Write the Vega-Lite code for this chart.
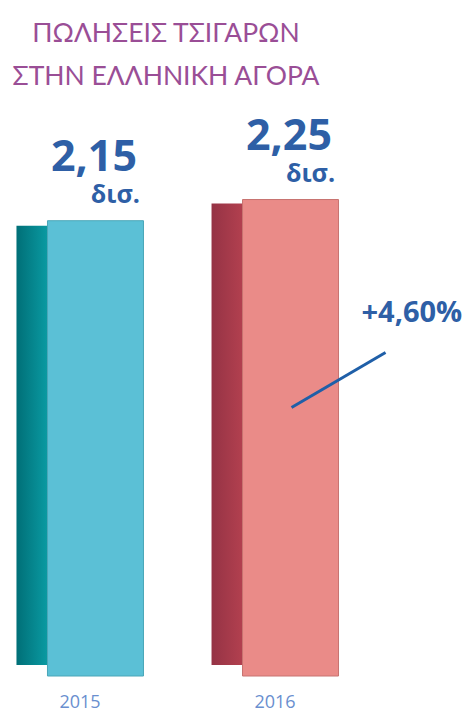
{
  "$schema": "https://vega.github.io/schema/vega-lite/v6.json",
  "width": 355,
  "height": 576,
  "autosize": "none",
  "padding": {"left": 0, "top": 100, "right": 113, "bottom": 35},
  "background": "white",
  "config": {"view": {"stroke": null}},
  "title": {
    "text": ["ΠΩΛΗΣΕΙΣ ΤΣΙΓΑΡΩΝ", "ΣΤΗΝ ΕΛΛΗΝΙΚΗ ΑΓΟΡΑ"],
    "anchor": "start",
    "frame": "group",
    "align": "center",
    "dx": 166,
    "offset": 10,
    "font": "Lato",
    "fontSize": 26.5,
    "fontWeight": "normal",
    "color": "#9a4e96",
    "lineHeight": 43
  },
  "data": {
    "values": [
      {"year": "2015", "value": 2.15, "label": "2,15", "unit": "δισ.", "change": ""},
      {"year": "2016", "value": 2.25, "label": "2,25", "unit": "δισ.", "change": "+4,60%"}
    ]
  },
  "encoding": {
    "x": {
      "field": "year",
      "type": "ordinal",
      "scale": {"paddingInner": 0.18, "paddingOuter": 0},
      "axis": {
        "title": null,
        "domain": false,
        "ticks": false,
        "labelAngle": 0,
        "labelFont": "Open Sans",
        "labelFontSize": 18,
        "labelColor": "#6a8fcf",
        "labelPadding": 17
      }
    },
    "y": {
      "field": "value",
      "type": "quantitative",
      "scale": {"domain": [0, 2.72], "nice": false},
      "axis": null
    }
  },
  "layer": [
    {
      "transform": [{"filter": "datum.year == '2015'"}],
      "mark": {
        "type": "bar",
        "width": 31,
        "xOffset": -48,
        "yOffset": 5,
        "y2Offset": -11,
        "color": {"gradient": "linear", "x1": 0, "x2": 1, "y1": 0, "y2": 0,
          "stops": [{"offset": 0, "color": "#006f77"}, {"offset": 1, "color": "#0a9aa2"}]}
      },
      "encoding": {"y2": {"datum": 0}}
    },
    {
      "transform": [{"filter": "datum.year == '2016'"}],
      "mark": {
        "type": "bar",
        "width": 31,
        "xOffset": -48,
        "yOffset": 4,
        "y2Offset": -11,
        "color": {"gradient": "linear", "x1": 0, "x2": 1, "y1": 0, "y2": 0,
          "stops": [{"offset": 0, "color": "#953345"}, {"offset": 1, "color": "#b2404f"}]}
      },
      "encoding": {"y2": {"datum": 0}}
    },
    {
      "transform": [{"filter": "datum.year == '2015'"}],
      "mark": {"type": "bar", "width": 96, "xOffset": 15.5, "color": "#5bc0d6", "stroke": "#4aa6b8", "strokeWidth": 1},
      "encoding": {"y2": {"datum": 0}}
    },
    {
      "transform": [{"filter": "datum.year == '2016'"}],
      "mark": {"type": "bar", "width": 96, "xOffset": 15.5, "color": "#ea8b88", "stroke": "#c87370", "strokeWidth": 1},
      "encoding": {"y2": {"datum": 0}}
    },
    {
      "mark": {
        "type": "text",
        "align": "right",
        "baseline": "alphabetic",
        "dx": 57,
        "dy": -50,
        "font": "Open Sans",
        "fontSize": 43,
        "fontWeight": "bold",
        "color": "#2e5fa6"
      },
      "encoding": {"text": {"field": "label"}}
    },
    {
      "mark": {
        "type": "text",
        "align": "right",
        "baseline": "alphabetic",
        "dx": 60,
        "dy": -18,
        "font": "Open Sans",
        "fontSize": 25,
        "fontWeight": "bold",
        "color": "#2e5fa6"
      },
      "encoding": {"text": {"field": "unit"}}
    },
    {
      "transform": [{"filter": "datum.year == '2016'"}],
      "mark": {
        "type": "text",
        "align": "left",
        "baseline": "alphabetic",
        "dx": 86.5,
        "dy": 122,
        "font": "Open Sans",
        "fontSize": 29,
        "fontWeight": "bold",
        "color": "#2e5fa6"
      },
      "encoding": {"text": {"field": "change"}}
    },
    {
      "transform": [{"filter": "datum.year == '2016'"}],
      "mark": {
        "type": "rule",
        "color": "#1f5fa8",
        "strokeWidth": 3,
        "xOffset": 16.5,
        "x2Offset": 110.5,
        "yOffset": 208,
        "y2Offset": 153
      },
      "encoding": {"x2": {"field": "year"}, "y2": {"field": "value"}}
    }
  ]
}
